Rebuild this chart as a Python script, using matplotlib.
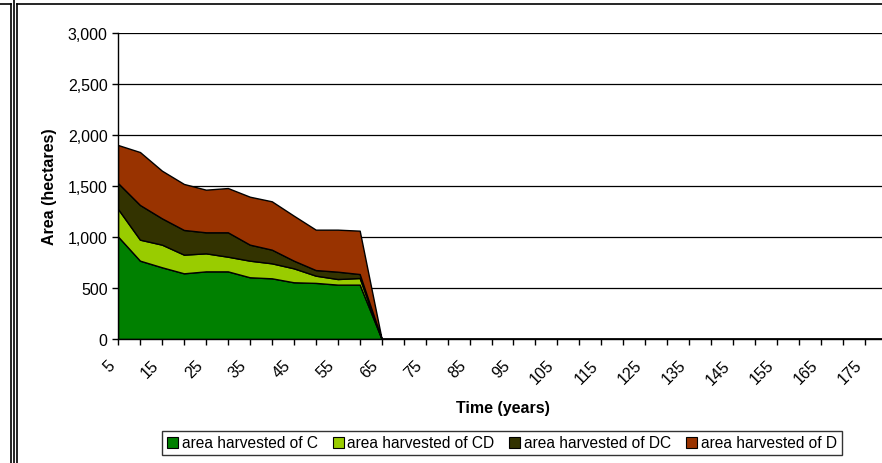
import matplotlib
matplotlib.use("Agg")
import matplotlib.pyplot as plt
from matplotlib.lines import Line2D
from matplotlib.ticker import FuncFormatter
from matplotlib.transforms import ScaledTranslation

plt.rcParams['font.family'] = ['Liberation Sans', 'DejaVu Sans']

years = [5, 10, 15, 20, 25, 30, 35, 40, 45, 50, 55, 60, 65, 70, 75, 80, 85, 90,
         95, 100, 105, 110, 115, 120, 125, 130, 135, 140, 145, 150, 155, 160,
         165, 170, 175, 180]
area_c = [1005, 768, 703, 644, 663, 663, 605, 595, 556, 550, 533, 533,
          0, 0, 0, 0, 0, 0, 0, 0, 0, 0, 0, 0, 0, 0, 0, 0, 0, 0, 0, 0, 0, 0, 0, 0]
area_cd = [270, 206, 222, 183, 177, 144, 163, 147, 137, 71, 55, 65,
           0, 0, 0, 0, 0, 0, 0, 0, 0, 0, 0, 0, 0, 0, 0, 0, 0, 0, 0, 0, 0, 0, 0, 0]
area_dc = [254, 340, 258, 242, 206, 239, 157, 134, 75, 55, 72, 39,
           0, 0, 0, 0, 0, 0, 0, 0, 0, 0, 0, 0, 0, 0, 0, 0, 0, 0, 0, 0, 0, 0, 0, 0]
area_d = [373, 519, 467, 451, 418, 434, 470, 474, 441, 396, 412, 425,
          0, 0, 0, 0, 0, 0, 0, 0, 0, 0, 0, 0, 0, 0, 0, 0, 0, 0, 0, 0, 0, 0, 0, 0]
labels = ['area harvested of C', 'area harvested of CD',
          'area harvested of DC', 'area harvested of D']
colors = ['#008000', '#99CC00', '#333300', '#993300']

W, H = 882, 464
fig = plt.figure(figsize=(W / 100, H / 100), dpi=100)

# frame lines around the chart (pixel coords -> figure fraction)
def px_line(x0, y0, x1, y1, lw=1.2):
    fig.add_artist(Line2D([x0 / W, x1 / W], [1 - y0 / H, 1 - y1 / H],
                          color='black', lw=lw, transform=fig.transFigure))

px_line(0, 5, 10.5, 5)
px_line(10.5, 5, 10.5, H)
px_line(14.5, 0, 14.5, H)
px_line(17, 5, W, 5)
px_line(17, 5, 17, H)

ax = fig.add_axes([118 / W, 1 - 340 / H, 769 / W, 306 / H])
polys = ax.stackplot(years, area_c, area_cd, area_dc, area_d, colors=colors,
                     labels=labels, edgecolor='black', linewidth=1.0, zorder=3)

ax.set_xlim(5, 180)
ax.set_ylim(0, 3000)
ax.set_yticks(range(0, 3001, 500))
ax.yaxis.set_major_formatter(FuncFormatter(lambda v, p: f'{int(v):,}'))
ax.grid(axis='y', color='black', lw=0.9, zorder=1)

for s in ['top', 'right']:
    ax.spines[s].set_visible(False)
for s in ['left', 'bottom']:
    ax.spines[s].set_linewidth(1.0)
    ax.spines[s].set_zorder(4)
ax.tick_params(axis='both', direction='out', length=4, width=1.0,
               labelsize=11.5, color='black')
ax.tick_params(axis='x', pad=4)

ax.set_xticks(years)
ax.set_xticklabels([str(y) if (y - 5) % 10 == 0 else '' for y in years],
                   rotation=45, ha='right', va='top', rotation_mode='anchor')
# Excel puts the rotated labels a bit left of / below the tick
shift = ScaledTranslation(-11 / 100, -7 / 100, fig.dpi_scale_trans)
for lab in ax.get_xticklabels():
    lab.set_transform(lab.get_transform() + shift)

ax.set_ylabel('Area (hectares)', fontsize=11.5, fontweight='bold', labelpad=8)
ax.set_xlabel('Time (years)', fontsize=11.5, fontweight='bold')
ax.xaxis.set_label_coords(0.5, -0.2)

leg = fig.legend(handles=polys, labels=labels, loc='center', ncol=4,
                 bbox_to_anchor=(502 / W, 1 - 444 / H), fontsize=11.2,
                 frameon=True, fancybox=False, edgecolor='black',
                 handlelength=0.7, handleheight=0.7, handletextpad=0.25,
                 columnspacing=0.95, borderpad=0.3, borderaxespad=0)
leg.get_frame().set_linewidth(1.0)
for h in leg.legend_handles:
    h.set_edgecolor('black')
    h.set_linewidth(0.8)

fig.savefig('out.png', dpi=100)
